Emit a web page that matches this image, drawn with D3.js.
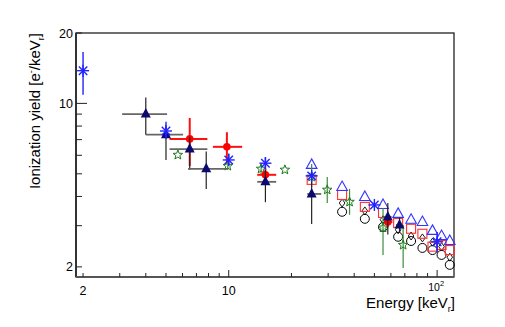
<!DOCTYPE html>
<html><head><meta charset="utf-8">
<script src="https://cdn.jsdelivr.net/npm/d3@7"></script>
<style>body{margin:0;background:#fff}svg{display:block;font-family:"Liberation Sans",Arial,sans-serif}</style>
</head><body>
<svg id="c" width="505" height="327"></svg>
<script>
// ---- data (energy keVr, yield e-/keVr) ----
// blue asterisks: [E, Y, Ylo, Yhi]
const blueStar = [[2.0,13.8,10.9,16.6],[5.0,7.62,7.04,8.34],[10,5.73,5.42,6.1],[15,5.55,5.25,5.9],[25,4.9,4.7,5.1],[50,3.68,3.58,3.78],[100,2.56,2.31,2.82]];
// navy filled triangles: [E, Elo, Ehi, Y, Ylo, Yhi]
const navyTri = [[4.0,3.08,5.06,9.0,7.35,10.6],[5.0,4.0,6.04,7.35,5.73,7.94],[6.5,5.2,7.9,6.38,5.2,7.2],[7.8,6.38,9.9,5.25,4.31,6.22],[15,13.7,16.9,4.62,3.78,5.2],[25,23.8,27.8,4.1,3.05,5.0],[58,55.5,60.5,3.27,2.75,3.75],[66,63.5,68.5,3.02,2.8,3.25]];
// red filled circles: [E, Elo, Ehi, Y, Ylo, Yhi]
const redDot = [[6.5,5.2,7.9,7.05,5.4,8.66],[9.8,8.4,11.6,6.52,5.6,7.53],[15,13.7,16.9,4.95,4.65,5.25],[58,56,61,3.11,2.95,3.27]];
// green open stars: [E, Y, Ylo, Yhi]
const greenStar = [[5.7,6.02,6.02,6.02],[9.9,5.4,5.2,5.6],[14.3,5.25,4.95,5.55],[18.6,5.2,5.2,5.2],[25,4.85,4.4,5.5],[29.7,4.27,3.75,4.85],[38,3.79,3.34,4.31],[55,2.94,2.25,3.57],[68.7,2.48,1.98,3.02]];
// open series energies
const openE = [25,35,45,55,65,75,85,95,105,115];
const openTri = [5.46,4.39,3.98,3.68,3.37,3.18,3.11,2.85,2.71,2.58];
const openSq  = [4.71,4.06,3.61,3.40,3.08,2.91,2.77,2.44,2.48,2.36];
const circE = [35,45,55,65,75,85,95,105,115];
const openCirc = [3.44,3.21,2.96,2.69,2.58,2.41,2.36,2.25,2.04];
const openDia  = [3.75,3.47,3.18,2.88,2.71,2.66,2.55,2.44,2.2];
const xTickLabels = ["2","10","10^2"];
const yTickLabels = ["2","10","20"];

const svg = d3.select("#c");
const L=76,R=454,T=33,B=277;
const x = d3.scaleLog().domain([1.85,120.5]).range([L,R]);
const y = d3.scaleLog().domain([1.81,20]).range([B,T]);

// frame
svg.append("rect").attr("x",L).attr("y",T).attr("width",R-L).attr("height",B-T)
  .attr("fill","none").attr("stroke","#222").attr("stroke-width",1.3);
svg.append("line").attr("x1",L).attr("x2",L).attr("y1",T).attr("y2",B).attr("stroke","#333").attr("stroke-width",2);
svg.append("line").attr("x1",L).attr("x2",R).attr("y1",B).attr("y2",B).attr("stroke","#555").attr("stroke-width",2);

// x ticks
const xt=[];
for(let d of [1,10]) for(let k=1;k<10;k++){const v=d*k; if(v>=1.85&&v<=120.5) xt.push(v);}
xt.push(100);
[...new Set(xt)].forEach(v=>{
  const major = (v===10||v===100);
  svg.append("line").attr("x1",x(v)).attr("x2",x(v)).attr("y1",B).attr("y2",B-(major?7:4)).attr("stroke","#222").attr("stroke-width",1);
});
// y ticks
const yt=[2,3,4,5,6,7,8,9,10,20];
yt.forEach(v=>{
  const major=(v===10);
  svg.append("line").attr("x1",L).attr("x2",L+(major?11:6)).attr("y1",y(v)).attr("y2",y(v)).attr("stroke","#222").attr("stroke-width",1);
});
// tick labels
const fs=12.5;
svg.append("text").attr("x",x(2)).attr("y",295).attr("text-anchor","middle").attr("font-size",fs).text(xTickLabels[0]);
svg.append("text").attr("x",x(10)).attr("y",295).attr("text-anchor","middle").attr("font-size",fs).text(xTickLabels[1]);
const t100=svg.append("text").attr("x",x(100)-1).attr("y",290.5).attr("text-anchor","middle").attr("font-size",10.5);
t100.append("tspan").text(xTickLabels[2].split("^")[0]);
t100.append("tspan").attr("font-size",7.5).attr("dy",-4.5).text(xTickLabels[2].split("^")[1]);
[[2,yTickLabels[0]],[10,yTickLabels[1]],[20,yTickLabels[2]]].forEach(([v,s])=>{
  svg.append("text").attr("x",73).attr("y",y(v)+4.5).attr("text-anchor","end").attr("font-size",fs).text(s);
});
// axis titles
const xt2=svg.append("text").attr("x",455).attr("y",308).attr("text-anchor","end").attr("font-size",15);
xt2.append("tspan").text("Energy [keV");
xt2.append("tspan").attr("font-size",9).attr("dy",4).text("r");
xt2.append("tspan").attr("dy",-4).text("]");
const yt2=svg.append("text").attr("transform","translate(40,33) rotate(-90)").attr("text-anchor","end").attr("font-size",15);
yt2.append("tspan").text("Ionization yield [e");
yt2.append("tspan").attr("font-size",9).attr("dy",-6).text("-");
yt2.append("tspan").attr("dy",6).text("/keV");
yt2.append("tspan").attr("font-size",9).attr("dy",4).text("r");
yt2.append("tspan").attr("dy",-4).text("]");

const g=svg.append("g");
// open circles
g.selectAll(".oc").data(circE.map((e,i)=>[e,openCirc[i]])).join("circle")
  .attr("cx",d=>x(d[0])).attr("cy",d=>y(d[1])).attr("r",4.5).attr("fill","none").attr("stroke","#000").attr("stroke-width",1);
// open diamonds
g.selectAll(".od").data(circE.map((e,i)=>[e,openDia[i]])).join("path")
  .attr("transform",d=>`translate(${x(d[0])},${y(d[1])})`).attr("d","M0,-4L2.8,0L0,4L-2.8,0Z")
  .attr("fill","none").attr("stroke","#000").attr("stroke-width",0.9);
// open squares
g.selectAll(".os").data(openE.map((e,i)=>[e,openSq[i]])).join("rect")
  .attr("x",d=>x(d[0])-4.5).attr("y",d=>y(d[1])-4.5).attr("width",9).attr("height",9)
  .attr("fill","none").attr("stroke","#ff3030").attr("stroke-width",1.1);
// open triangles
g.selectAll(".ot").data(openE.map((e,i)=>[e,openTri[i]])).join("path")
  .attr("transform",d=>`translate(${x(d[0])},${y(d[1])})`).attr("d","M0,-6L5.3,3.5L-5.3,3.5Z")
  .attr("fill","none").attr("stroke","#3333ff").attr("stroke-width",1.1);

// green stars with error bars
function starPath(ro,ri){let p="";for(let i=0;i<10;i++){const r=i%2?ri:ro;const a=-Math.PI/2+i*Math.PI/5;p+=(i?"L":"M")+(r*Math.cos(a)).toFixed(2)+","+(r*Math.sin(a)).toFixed(2);}return p+"Z";}
greenStar.forEach(d=>{
  if(d[3]>d[2]) g.append("line").attr("x1",x(d[0])).attr("x2",x(d[0])).attr("y1",y(d[2])).attr("y2",y(d[3])).attr("stroke","#3c8c3c").attr("stroke-width",1.2);
});
g.selectAll(".gs").data(greenStar).join("path").attr("transform",d=>`translate(${x(d[0])},${y(d[1])})`)
  .attr("d",starPath(5,2.1)).attr("fill","#fff").attr("fill-opacity",0).attr("stroke","#1a7a1a").attr("stroke-width",1);

// red dots with error bars
redDot.forEach(d=>{
  g.append("line").attr("x1",x(d[1])).attr("x2",x(d[2])).attr("y1",y(d[3])).attr("y2",y(d[3])).attr("stroke","#ff1010").attr("stroke-width",2);
  g.append("line").attr("x1",x(d[0])).attr("x2",x(d[0])).attr("y1",y(d[4])).attr("y2",y(d[5])).attr("stroke","#ff1010").attr("stroke-width",2);
});
g.selectAll(".rd").data(redDot).join("circle").attr("cx",d=>x(d[0])).attr("cy",d=>y(d[3])).attr("r",3.8).attr("fill","#ff0000");

// navy triangles with error bars
navyTri.forEach(d=>{
  g.append("line").attr("x1",x(d[1])).attr("x2",x(d[2])).attr("y1",y(d[3])).attr("y2",y(d[3])).attr("stroke","#666").attr("stroke-width",1.8);
  g.append("line").attr("x1",x(d[0])).attr("x2",x(d[0])).attr("y1",y(d[4])).attr("y2",y(d[5])).attr("stroke","#222").attr("stroke-width",1.2);
});
g.selectAll(".nt").data(navyTri).join("path").attr("transform",d=>`translate(${x(d[0])},${y(d[3])})`)
  .attr("d","M0,-6L5,3.5L-5,3.5Z").attr("fill","#0a0a6e");

// blue asterisks
blueStar.forEach(d=>{
  g.append("line").attr("x1",x(d[0])).attr("x2",x(d[0])).attr("y1",y(d[2])).attr("y2",y(d[3])).attr("stroke","#2222ff").attr("stroke-width",1.4);
  const gg=g.append("g").attr("transform",`translate(${x(d[0])},${y(d[1])})`);
  const r=6;
  [[0,r],[r,0],[r*0.7,r*0.7],[r*0.7,-r*0.7]].forEach(([a,b])=>gg.append("line").attr("x1",-a).attr("y1",-b).attr("x2",a).attr("y2",b).attr("stroke","#2222ff").attr("stroke-width",1.4));
});
</script>
</body></html>
